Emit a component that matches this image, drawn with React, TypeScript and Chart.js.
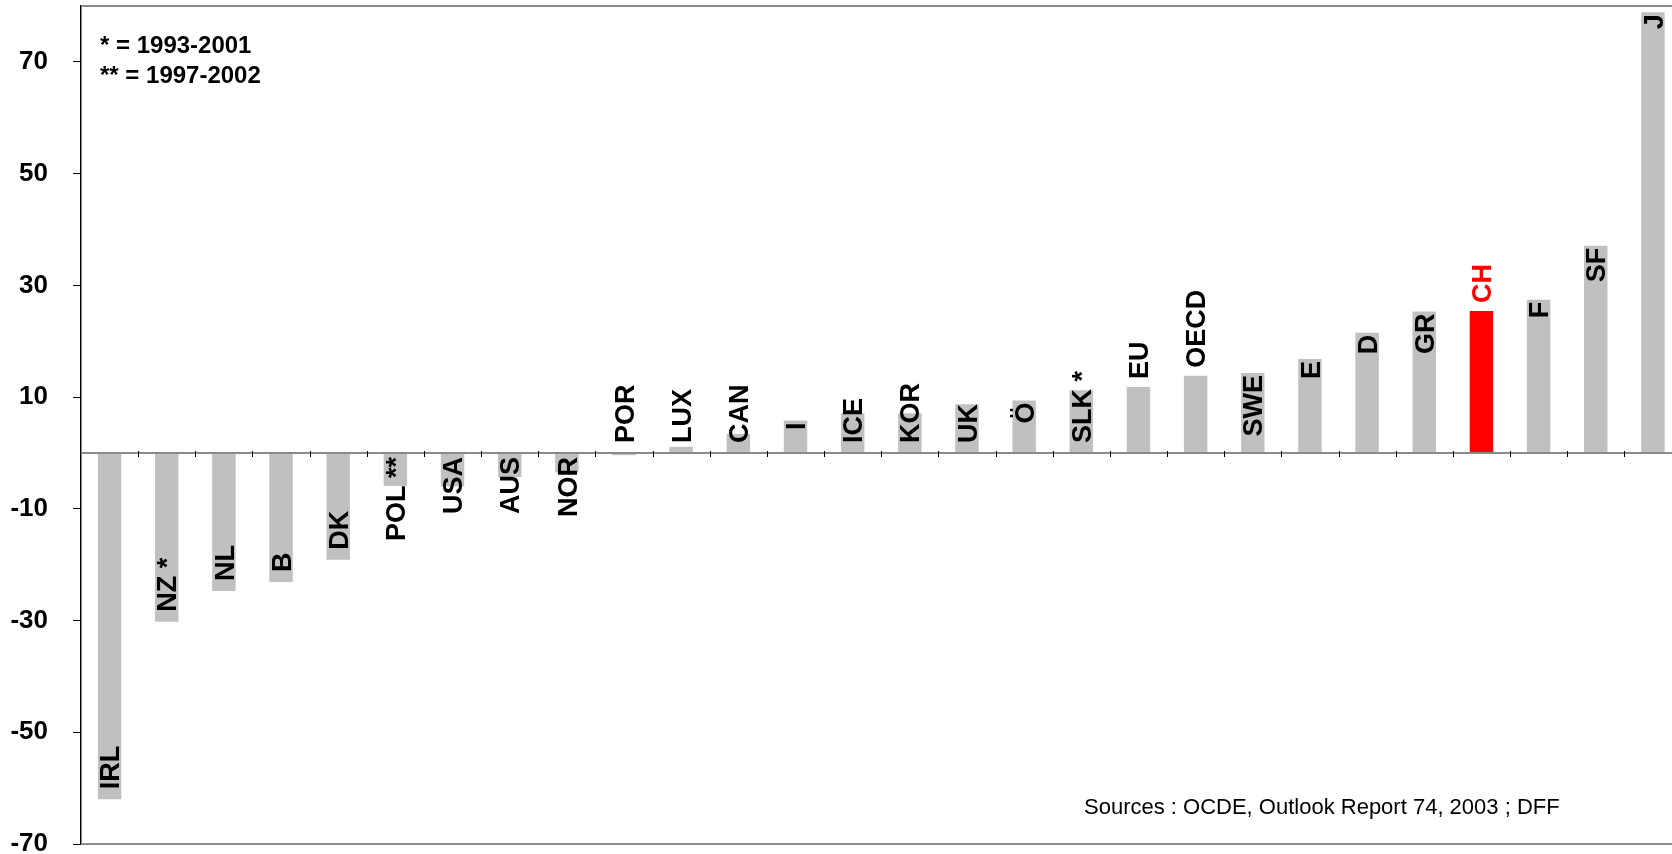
import React, { useEffect, useRef } from "react";
import { Chart, registerables } from "chart.js";

Chart.register(...registerables);

const categories = [
  "IRL", "NZ *", "NL", "B", "DK", "POL **", "USA", "AUS", "NOR", "POR",
  "LUX", "CAN", "I", "ICE", "KOR", "UK", "Ö", "SLK *", "EU", "OECD",
  "SWE", "E", "D", "GR", "CH", "F", "SF", "J",
];
const values = [
  -62.0, -30.2, -24.7, -23.1, -19.1, -5.9, -6.0, -4.3, -3.5, -0.4,
  1.1, 3.4, 5.8, 7.1, 7.1, 8.7, 9.4, 11.2, 11.8, 13.8,
  14.3, 16.8, 21.5, 25.3, 25.4, 27.4, 37.1, 78.9,
];
const yTickValues = [-70, -50, -30, -10, 10, 30, 50, 70];
const highlighted = ["CH"];
const labelsAboveBar = ["EU", "OECD", "CH"];
const footnotes = ["* = 1993-2001", "** = 1997-2002"];
const sourceText = "Sources : OCDE, Outlook Report 74, 2003 ; DFF";

const FONT = "'Liberation Sans', Arial, Helvetica, sans-serif";
const LABEL_SIZE = 27;

const decorPlugin = {
  id: "decor",
  beforeDatasetsDraw(chart: any) {
    const { ctx, chartArea } = chart;
    ctx.save();
    ctx.strokeStyle = "#8a8a8a";
    ctx.lineWidth = 2;
    ctx.beginPath();
    ctx.moveTo(chartArea.left, chartArea.top);
    ctx.lineTo(chartArea.right, chartArea.top);
    ctx.moveTo(chartArea.left, chartArea.bottom);
    ctx.lineTo(chartArea.right, chartArea.bottom);
    ctx.stroke();
    ctx.restore();
  },
  afterDatasetsDraw(chart: any) {
    const { ctx, chartArea, scales } = chart;
    const xs = scales.x;
    const ys = scales.y;
    const y0 = Math.round(ys.getPixelForValue(0));
    ctx.save();
    ctx.strokeStyle = "#8a8a8a";
    ctx.lineWidth = 2;
    ctx.beginPath();
    ctx.moveTo(chartArea.left, y0);
    ctx.lineTo(chartArea.right, y0);
    ctx.stroke();
    ctx.strokeStyle = "#000";
    ctx.lineWidth = 1;
    ctx.beginPath();
    for (let i = 0; i < categories.length - 1; i++) {
      const x = Math.round(xs.getPixelForValue(i + 0.5)) + 0.5;
      ctx.moveTo(x, y0 - 2);
      ctx.lineTo(x, y0 + 4);
    }
    ctx.stroke();
    ctx.restore();

    const meta = chart.getDatasetMeta(0);
    ctx.save();
    ctx.font = `bold ${LABEL_SIZE}px ${FONT}`;
    ctx.textAlign = "left";
    ctx.textBaseline = "alphabetic";
    const capH = LABEL_SIZE * 0.716;
    meta.data.forEach((bar: any, i: number) => {
      const name = categories[i];
      const w = ctx.measureText(name).width;
      const end = bar.y;
      const base = bar.base;
      let bottom: number;
      if (values[i] > -1) {
        if (labelsAboveBar.includes(name)) {
          bottom = end - 8;
        } else {
          const top = end + 2;
          bottom = Math.min(top + w, base - 10);
        }
      } else {
        bottom = end - 10;
        if (bottom - w < base + 4) bottom = base + 4 + w;
      }
      ctx.save();
      ctx.translate(bar.x, bottom);
      ctx.rotate(-Math.PI / 2);
      ctx.fillStyle = highlighted.includes(name) ? "#ff0000" : "#000000";
      ctx.fillText(name, 0, capH / 2);
      ctx.restore();
    });
    ctx.font = `bold 24px ${FONT}`;
    ctx.fillStyle = "#000";
    ctx.textBaseline = "middle";
    footnotes.forEach((t, k) => {
      ctx.fillText(t, chartArea.left + 19, 46 + k * 30);
    });
    ctx.font = `22px ${FONT}`;
    ctx.fillText(sourceText, 1084, 808);
    ctx.restore();
  },
};

export default function App() {
  const ref = useRef<HTMLCanvasElement>(null);
  useEffect(() => {
    if (!ref.current) return;
    const data = values.map((v, i) => ({ x: i, y: v }));
    const chart = new Chart(ref.current, {
      type: "bar",
      data: {
        datasets: [
          {
            data,
            backgroundColor: categories.map((c) =>
              highlighted.includes(c) ? "#ff0000" : "#c0c0c0"
            ),
            borderWidth: 0,
            barPercentage: 0.41,
            categoryPercentage: 1,
          },
        ],
      },
      options: {
        animation: false,
        responsive: false,
        maintainAspectRatio: false,
        layout: { autoPadding: false, padding: { left: 0, right: 0, top: 6, bottom: 10 } },
        plugins: { legend: { display: false }, tooltip: { enabled: false } },
        scales: {
          x: {
            type: "linear",
            display: false,
            offset: false,
            min: -0.5,
            max: 27.334,
            grid: { offset: false },
          },
          y: {
            type: "linear",
            position: "left",
            min: -70,
            max: 80,
            afterBuildTicks: (axis: any) => {
              axis.ticks = yTickValues.map((v) => ({ value: v }));
            },
            afterFit: (axis: any) => {
              axis.width = 81;
              axis.paddingTop = 0;
              axis.paddingBottom = 0;
            },
            ticks: {
              color: "#000",
              font: { family: FONT, size: 26, weight: "bold" },
              padding: 25,
            },
            grid: {
              drawOnChartArea: false,
              drawTicks: true,
              tickLength: 8,
              color: "#000",
              lineWidth: 1,
            },
            border: { color: "#000", width: 1.5 },
          },
        },
      },
      plugins: [decorPlugin],
    });
    return () => chart.destroy();
  }, []);
  return (
    <div style={{ position: "absolute", left: 0, top: 0, width: 1672, height: 854, background: "#fff" }}>
      <canvas ref={ref} width={1672} height={854} style={{ display: "block" }} />
    </div>
  );
}
